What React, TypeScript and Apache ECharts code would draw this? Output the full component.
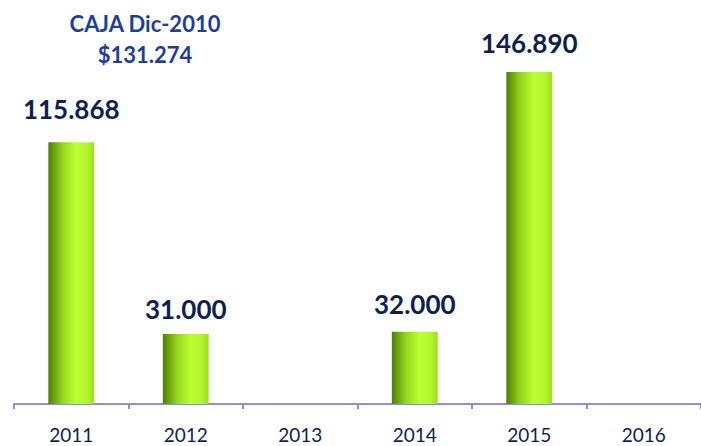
import React, { useEffect, useRef } from "react";
import * as echarts from "echarts";

const categories = ["2011", "2012", "2013", "2014", "2015", "2016"];
const values: (number | null)[] = [115868, 31000, null, 32000, 146890, null];
const valueLabels = ["115.868", "31.000", "", "32.000", "146.890", ""];
const titleLines = ["CAJA Dic-2010", "$131.274"];
const labelGaps = [20, 12, 0, 15, 16, 0];

export default function App() {
  const ref = useRef<HTMLDivElement>(null);
  useEffect(() => {
    if (!ref.current) return;
    const chart = echarts.init(ref.current, null, { renderer: "svg" });
    const barColor = new echarts.graphic.LinearGradient(0, 0, 1, 0, [
      { offset: 0, color: "#4f7d08" },
      { offset: 0.3, color: "#95d41c" },
      { offset: 0.6, color: "#baff32" },
      { offset: 0.85, color: "#b2f52c" },
      { offset: 1, color: "#9fdc22" },
    ]);
    chart.setOption({
      animation: false,
      backgroundColor: "#ffffff",
      title: {
        text: titleLines.join("\n"),
        left: 140,
        textAlign: "center",
        top: 3,
        textStyle: {
          fontFamily: "Lato",
          fontWeight: "bold",
          fontSize: 22,
          color: "#1d3e9c",
          lineHeight: 31,
        },
      },
      grid: { left: 14, top: 4, width: 700, height: 400 },
      xAxis: {
        type: "category",
        data: categories,
        axisLine: { show: true, lineStyle: { color: "#8e92c6", width: 2 } },
        axisTick: { show: true, length: 5, lineStyle: { color: "#8e92c6", width: 2 } },
        axisLabel: {
          margin: 21,
          fontFamily: "Lato",
          fontSize: 19,
          lineHeight: 19,
          color: "#0e1f52",
        },
      },
      yAxis: {
        type: "value",
        min: 0,
        max: 177000,
        show: false,
        splitLine: { show: false },
      },
      series: [
        {
          type: "bar",
          barWidth: "40%",
          data: values.map((v, i) => ({
            value: v,
            label: { distance: labelGaps[i] },
          })),
          itemStyle: { color: barColor },
          label: {
            show: true,
            position: "top",
            fontFamily: "Lato",
            fontWeight: "bold",
            fontSize: 26,
            color: "#0e1f52",
            formatter: (p: any) => valueLabels[p.dataIndex],
          },
        },
      ],
    });
    return () => chart.dispose();
  }, []);
  return (
    <div
      ref={ref}
      style={{ position: "absolute", left: 0, top: 0, width: 701, height: 446 }}
    />
  );
}
